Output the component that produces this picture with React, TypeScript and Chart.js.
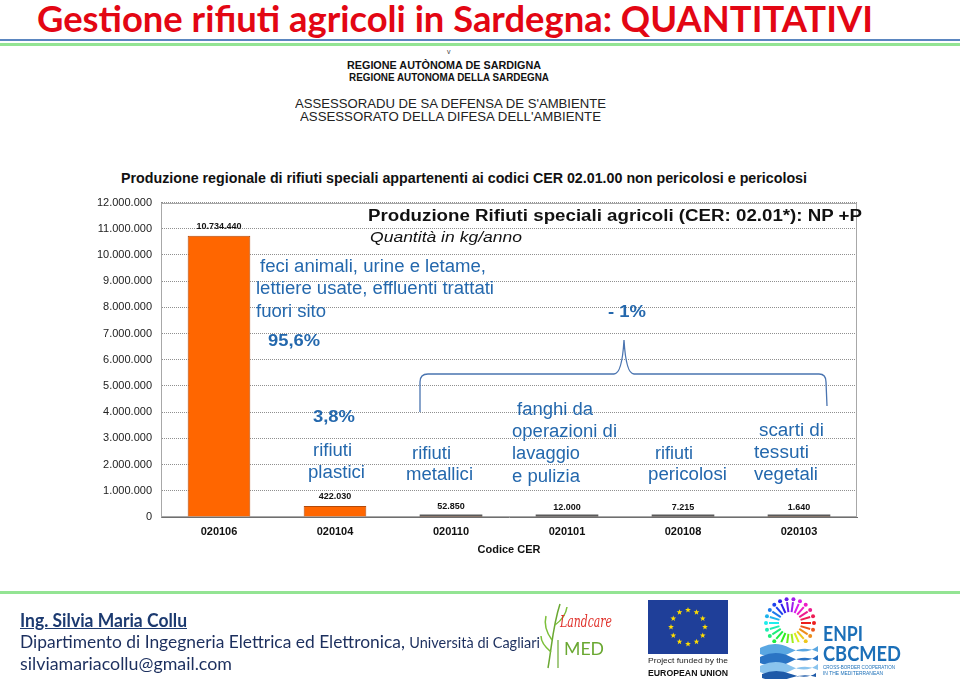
import React, { useEffect, useLayoutEffect, useRef } from 'react';
import { Chart, registerables } from 'chart.js';

Chart.register(...registerables);

// ---------- data ----------
const categories = ['020106', '020104', '020110', '020101', '020108', '020103'];
const quantities = [10734440, 422030, 52850, 12000, 7215, 1640];
const yMin = 0;
const yMax = 12000000;
const yStep = 1000000;
const xAxisTitle = 'Codice CER';

const ARIAL = '"Liberation Sans", Arial, sans-serif';
const CALIBRI = 'Lato, "Open Sans", sans-serif';
const BLUE = '#2468ad';

function fmt(n: number) {
  return Math.round(n).toString().replace(/\B(?=(\d{3})+(?!\d))/g, '.');
}

type TProps = {
  x: number; cy: number; w?: number; size: number; bold?: boolean; italic?: boolean;
  color?: string; family?: string; underline?: boolean; children: any;
};

function T(p: TProps) {
  const ref = useRef<HTMLSpanElement>(null);
  useLayoutEffect(() => {
    const el = ref.current;
    if (!el || !p.w) return;
    const fit = () => {
      el.style.transform = 'none';
      const nat = el.getBoundingClientRect().width;
      if (nat > 0) el.style.transform = `scaleX(${p.w! / nat})`;
    };
    fit();
    const f = (document as any).fonts;
    if (f && f.ready) f.ready.then(fit);
  }, [p.w]);
  return (
    <span
      ref={ref}
      style={{
        position: 'absolute', left: p.x, top: p.cy - p.size * 0.5, fontSize: p.size, lineHeight: 1,
        fontFamily: p.family ?? ARIAL, fontWeight: p.bold ? 700 : 400,
        fontStyle: p.italic ? 'italic' : 'normal', color: p.color ?? '#111', whiteSpace: 'nowrap',
        transformOrigin: '0 0', textDecoration: p.underline ? 'underline' : 'none',
      }}
    >
      {p.children}
    </span>
  );
}

function BarChart() {
  const ref = useRef<HTMLCanvasElement>(null);
  useEffect(() => {
    if (!ref.current) return;
    const frame = {
      id: 'frame',
      beforeDatasetsDraw(chart: any) {
        const { ctx, chartArea: a } = chart;
        ctx.save();
        ctx.strokeStyle = '#a8a8a8';
        ctx.lineWidth = 1;
        const l = Math.round(a.left) + 0.5, t = Math.round(a.top) + 0.5;
        const r = Math.round(a.right) - 0.5, b = Math.round(a.bottom) - 0.5;
        ctx.strokeRect(l, t, r - l, b - t);
        ctx.restore();
      },
    };
    const valueLabels = {
      id: 'valueLabels',
      afterDatasetsDraw(chart: any) {
        const { ctx } = chart;
        const meta = chart.getDatasetMeta(0);
        ctx.save();
        // thin bars: outline shows as a dark edge in the original
        meta.data.forEach((bar: any) => {
          if (Math.abs(bar.base - bar.y) < 3) {
            ctx.fillStyle = '#5a5a5a';
            ctx.fillRect(bar.x - bar.width / 2, Math.min(bar.y, bar.base - 2), bar.width, 2);
          }
        });
        ctx.font = `bold 9px ${ARIAL}`;
        ctx.fillStyle = '#111';
        ctx.textAlign = 'center';
        ctx.textBaseline = 'middle';
        meta.data.forEach((bar: any, i: number) => {
          ctx.fillText(fmt(quantities[i]), bar.x, bar.y - 9.5);
        });
        ctx.restore();
      },
    };
    const chart = new Chart(ref.current, {
      type: 'bar',
      data: {
        labels: categories,
        datasets: [{
          data: quantities,
          backgroundColor: '#FF6600',
          borderColor: '#b34a0a',
          borderWidth: 1,
          barPercentage: 0.54,
          categoryPercentage: 1,
        }],
      },
      options: {
        animation: false,
        responsive: false,
        devicePixelRatio: 1,
        layout: { padding: { top: 10, right: 5, left: 0, bottom: 0 } },
        plugins: { legend: { display: false }, tooltip: { enabled: false } },
        scales: {
          x: {
            grid: { display: false, drawTicks: false },
            border: { display: true, color: '#6f6f6f', width: 1 },
            ticks: { padding: 8, color: '#111', font: { family: ARIAL, size: 11, weight: 'bold' } },
            title: {
              display: true, text: xAxisTitle, color: '#111',
              font: { family: ARIAL, size: 11, weight: 'bold' }, padding: { top: 0, bottom: 4 },
            },
            afterFit(s: any) { s.height = 44; },
          },
          y: {
            min: yMin, max: yMax,
            ticks: {
              stepSize: yStep, padding: 9, color: '#222', font: { family: ARIAL, size: 11 },
              callback: (v: any) => fmt(Number(v)),
            },
            grid: { color: '#8f8f8f', drawTicks: false },
            border: { display: true, color: '#8c8c8c', dash: [1, 1] },
            afterFit(s: any) { s.width = 81; },
          },
        },
      } as any,
      plugins: [frame, valueLabels],
    });
    return () => chart.destroy();
  }, []);
  return (
    <canvas
      ref={ref}
      width={782}
      height={374}
      style={{ position: 'absolute', left: 80, top: 187, width: 782, height: 374 }}
    />
  );
}

function star(cx: number, cy: number, ro: number, ri: number) {
  const pts: string[] = [];
  for (let k = 0; k < 10; k++) {
    const r = k % 2 === 0 ? ro : ri;
    const a = -Math.PI / 2 + (k * Math.PI) / 5;
    pts.push(`${(cx + r * Math.cos(a)).toFixed(2)},${(cy + r * Math.sin(a)).toFixed(2)}`);
  }
  return pts.join(' ');
}

function Logos() {
  const stars = Array.from({ length: 12 }, (_, i) => {
    const a = (i * Math.PI) / 6;
    return [688 + 17 * Math.sin(a), 627 - 17 * Math.cos(a)];
  });
  const rays = Array.from({ length: 22 }, (_, i) => {
    const a = (i * 2 * Math.PI) / 22;
    return { a, c: `hsl(${(i * 360) / 22}, 85%, 52%)` };
  });
  return (
    <svg width={960} height={679} style={{ position: 'absolute', left: 0, top: 0, pointerEvents: 'none' }}>
      {/* Landcare MED */}
      <path d="M548,668 C552,645 553,625 560,604" stroke="#6aa832" strokeWidth={1.5} fill="none" />
      <path d="M552,640 C546,632 544,624 546,616 M555,625 C562,620 566,614 567,607 M551,652 C545,647 541,642 541,636"
        stroke="#7cbf3a" strokeWidth={1.5} fill="none" />
      <path d="M558,640 L558,668" stroke="#6aa832" strokeWidth={1.2} />
      {/* EU flag */}
      <rect x={648} y={600} width={80} height={54} fill="#1f3f99" />
      {stars.map(([x, y], i) => (
        <polygon key={i} points={star(x, y, 3, 1.25)} fill="#ffdd00" />
      ))}
      {/* ENPI sun */}
      {rays.map((r, i) => (
        <g key={i}>
          <line x1={790 + 11 * Math.cos(r.a)} y1={623 + 11 * Math.sin(r.a)}
            x2={790 + 21 * Math.cos(r.a)} y2={623 + 21 * Math.sin(r.a)} stroke={r.c} strokeWidth={2} />
          <circle cx={790 + 24 * Math.cos(r.a)} cy={623 + 24 * Math.sin(r.a)} r={2} fill={r.c} />
        </g>
      ))}
      <rect x={758} y={643} width={60} height={36} fill="#fff" />
      <path d="M760,648 Q775,640 790,648 T818,646 L818,652 Q804,645 790,653 T760,654 Z" fill="#5aa7e2" />
      <path d="M760,657 Q776,649 791,657 T818,655 L818,661 Q804,654 790,662 T760,663 Z" fill="#2a74c4" />
      <path d="M760,666 Q776,658 791,666 T818,664 L818,670 Q804,663 790,671 T760,672 Z" fill="#8ac4ee" />
      <path d="M762,674 Q776,668 791,674 T816,673 L816,677 Q804,673 790,678 T762,678 Z" fill="#1e5aa8" />
    </svg>
  );
}

export default function App() {
  return (
    <div style={{ position: 'absolute', left: 0, top: 0, width: 960, height: 679, background: '#fff', overflow: 'hidden' }}>
      {/* title */}
      <T x={37} cy={17} w={836} size={37} bold family={CALIBRI} color="#e30613">
        Gestione rifiuti agricoli in Sardegna: QUANTITATIVI
      </T>
      <div style={{ position: 'absolute', left: 0, top: 39, width: 960, height: 1.5, background: '#5b86c0' }} />
      <div style={{ position: 'absolute', left: 0, top: 43, width: 960, height: 3, background: '#93e493' }} />

      {/* header of the scanned page */}
      <T x={447} cy={51} size={7} color="#444">v</T>
      <T x={347} cy={66} w={194} size={10} bold>REGIONE AUTÒNOMA DE SARDIGNA</T>
      <T x={349} cy={78} w={200} size={10} bold>REGIONE AUTONOMA DELLA SARDEGNA</T>
      <T x={295} cy={103} w={311} size={13} color="#222">ASSESSORADU DE SA DEFENSA DE S'AMBIENTE</T>
      <T x={300} cy={116} w={301} size={13} color="#222">ASSESSORATO DELLA DIFESA DELL'AMBIENTE</T>
      <T x={121} cy={178} w={686} size={14} bold>
        Produzione regionale di rifiuti speciali appartenenti ai codici CER 02.01.00 non pericolosi e pericolosi
      </T>

      <BarChart />

      {/* chart captions */}
      <T x={368} cy={216} w={494} size={16} bold>Produzione Rifiuti speciali agricoli (CER: 02.01*): NP +P</T>
      <T x={370} cy={236} w={152} size={15} italic>Quantità in kg/anno</T>

      {/* bracket */}
      <svg width={960} height={679} style={{ position: 'absolute', left: 0, top: 0, pointerEvents: 'none' }}>
        <path
          d="M420,412 L420,382 Q420,374 428,374 L614,374 Q622,374 624,340 Q626,374 634,374 L819,374 Q826,374 826,382 L827,406"
          stroke="#4a74b0" strokeWidth={1.3} fill="none"
        />
      </svg>

      {/* blue annotations */}
      <T x={260} cy={266} w={226} size={18} color={BLUE}>feci animali, urine e letame,</T>
      <T x={256} cy={288} w={238} size={18} color={BLUE}>lettiere usate, effluenti trattati</T>
      <T x={256} cy={311} w={70} size={18} color={BLUE}>fuori sito</T>
      <T x={268} cy={340} w={52} size={17} bold color={BLUE}>95,6%</T>
      <T x={608} cy={311} w={38} size={17} bold color={BLUE}>- 1%</T>
      <T x={313} cy={416} w={42} size={17} bold color={BLUE}>3,8%</T>
      <T x={313} cy={450} w={39} size={18} color={BLUE}>rifiuti</T>
      <T x={308} cy={472} w={57} size={18} color={BLUE}>plastici</T>
      <T x={412} cy={453} w={39} size={18} color={BLUE}>rifiuti</T>
      <T x={406} cy={474} w={67} size={18} color={BLUE}>metallici</T>
      <T x={517} cy={409} w={76} size={18} color={BLUE}>fanghi da</T>
      <T x={512} cy={431} w={105} size={18} color={BLUE}>operazioni di</T>
      <T x={512} cy={453} w={68} size={18} color={BLUE}>lavaggio</T>
      <T x={512} cy={476} w={68} size={18} color={BLUE}>e pulizia</T>
      <T x={655} cy={453} w={38} size={18} color={BLUE}>rifiuti</T>
      <T x={648} cy={474} w={79} size={18} color={BLUE}>pericolosi</T>
      <T x={759} cy={430} w={65} size={18} color={BLUE}>scarti di</T>
      <T x={754} cy={452} w={55} size={18} color={BLUE}>tessuti</T>
      <T x={754} cy={474} w={64} size={18} color={BLUE}>vegetali</T>

      {/* footer */}
      <div style={{ position: 'absolute', left: 0, top: 591, width: 960, height: 3, background: '#93e493' }} />
      <T x={20} cy={620} w={167} size={18} bold underline family={CALIBRI} color="#1c3a70">Ing. Silvia Maria Collu</T>
      <T x={20} cy={641} w={520} size={18} family={CALIBRI} color="#1c2f5e">
        Dipartimento di Ingegneria Elettrica ed Elettronica, <span style={{ fontSize: 15 }}>Università di Cagliari</span>
      </T>
      <T x={20} cy={663} w={212} size={18} family={CALIBRI} color="#1c2f5e">silviamariacollu@gmail.com</T>

      <Logos />
      <T x={560} cy={622} w={52} size={16} italic family="'DejaVu Serif', serif" color="#e0312b">Landcare</T>
      <T x={564} cy={648} w={40} size={17} family={CALIBRI} color="#6aa832">MED</T>
      <T x={648} cy={661} w={80} size={8} family={ARIAL} color="#222">Project funded by the</T>
      <T x={648} cy={673} w={80} size={9} bold family={ARIAL} color="#111">EUROPEAN UNION</T>
      <T x={823} cy={633} w={40} size={20} bold family={CALIBRI} color="#1b6fb8">ENPI</T>
      <T x={823} cy={653} w={78} size={20} bold family={CALIBRI} color="#1b6fb8">CBCMED</T>
      <T x={823} cy={667} w={72} size={5} family={ARIAL} color="#1b6fb8">CROSS-BORDER COOPERATION</T>
      <T x={823} cy={673} w={60} size={5} family={ARIAL} color="#1b6fb8">IN THE MEDITERRANEAN</T>
    </div>
  );
}
